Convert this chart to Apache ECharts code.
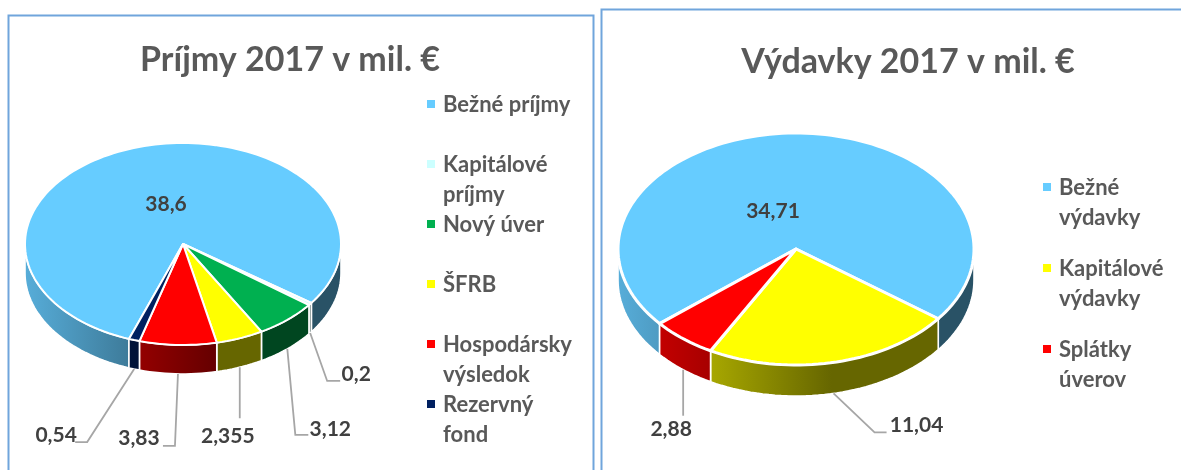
<!DOCTYPE html>
<html>
<head>
<meta charset="utf-8">
<style>
  html, body { margin: 0; padding: 0; background: #fff; }
  #chart { width: 1181px; height: 470px; }
</style>
</head>
<body>
<div id="chart"></div>
<script src="https://cdn.jsdelivr.net/npm/echarts@6/dist/echarts.min.js"></script>
<script>
// chart values
const incomeNames = ['Bežné príjmy', 'Kapitálové príjmy', 'Nový úver', 'ŠFRB', 'Hospodársky výsledok', 'Rezervný fond'];
const incomeValues = [38.6, 0.2, 3.12, 2.355, 3.83, 0.54];
const incomeLabels = ['38,6', '0,2', '3,12', '2,355', '3,83', '0,54'];
const incomeColors = ['#66CCFF', '#CCFFFF', '#00B050', '#FFFF00', '#FF0000', '#002060'];

const expenseNames = ['Bežné výdavky', 'Kapitálové výdavky', 'Splátky úverov'];
const expenseValues = [34.71, 11.04, 2.88];
const expenseLabels = ['34,71', '11,04', '2,88'];
const expenseColors = ['#66CCFF', '#FFFF00', '#FF0000'];

const incomeLegendLines = [['Bežné príjmy'], ['Kapitálové', 'príjmy'], ['Nový úver'], ['ŠFRB'], ['Hospodársky', 'výsledok'], ['Rezervný', 'fond']];
const expenseLegendLines = [['Bežné', 'výdavky'], ['Kapitálové', 'výdavky'], ['Splátky', 'úverov']];

// layout of the two pies, all in px
const incomePie = {
    cx: 183, cy: 244, rx: 158, ry: 101, depth: 29, startAngle: 110, seam: 2,
    // leader elbows and label centres, relative to the point under each slice
    leaders: [null, [[17, 48], [30, 48]], [[8, 86], [21, 86]], [[0, 51]], [[-3, 72], [-15, 72]], [[-47, 73], [-59, 73]]],
    labelAt: [[-17, -40], [46, 41], [43, 80], [-12, 69], [-39, 64], [-78, 66]],
    title: { x: 285, y: 38 },
    legend: { x: 427, y: 104, step: 60 }
};
const expensePie = {
    cx: 796, cy: 249, rx: 178, ry: 116, depth: 31, startAngle: 140, seam: 3,
    leaders: [null, [[41, 39], [53, 39]], [[0, 46]]],
    labelAt: [[-23, -38], [83, 32], [-12, 60]],
    title: { x: 903, y: 40 },
    legend: { x: 1043, y: 187, step: 81 }
};

const textFont = 'Lato';
const labelColor = '#404040';
const greyText = '#595959';
const leaderColor = '#A6A6A6';

function shade(hex, f) {
    const n = parseInt(hex.slice(1), 16);
    const c = [n >> 16, (n >> 8) & 255, n & 255].map(v => Math.round(v * f));
    return `rgb(${c[0]},${c[1]},${c[2]})`;
}

// side wall gets lighter towards the left of the pie
const sideGradient = (pie, color) => new echarts.graphic.LinearGradient(
    pie.cx - pie.rx, 0, pie.cx + pie.rx, 0,
    [{ offset: 0, color: shade(color, 0.85) }, { offset: 0.6, color: shade(color, 0.4) }, { offset: 1, color: shade(color, 0.4) }],
    true
);

const sliceRows = (values, startAngle) => {
    const total = values.reduce((a, b) => a + b, 0);
    let angle = startAngle;
    return values.map((v, i) => {
        const from = angle;
        angle += (v / total) * 360;
        return [from, angle, v, i];
    });
};

const arcPoints = (api, a0, a1, dy) => {
    const pts = [];
    const steps = Math.max(2, Math.ceil((a1 - a0) / 2));
    for (let s = 0; s <= steps; s++) {
        const a = ((a0 + ((a1 - a0) * s) / steps) * Math.PI) / 180;
        const p = api.coord([Math.cos(a), Math.sin(a)]);
        pts.push([p[0], p[1] + dy]);
    }
    return pts;
};

const makeRenderItem = (pie, colors, labels) => (params, api) => {
    const a0 = api.value(0);
    const a1 = api.value(1);
    const i = api.value(3);
    const color = colors[i];
    const style = { stroke: '#fff', lineWidth: pie.seam, lineJoin: 'round' };
    const children = [];

    // only the part of the wall facing the viewer is drawn
    [[0, 180], [360, 540]].forEach(([lo, hi]) => {
        const from = Math.max(a0, lo);
        const to = Math.min(a1, hi);
        if (from >= to) return;
        const top = arcPoints(api, from, to, 0);
        const bottom = arcPoints(api, from, to, pie.depth).reverse();
        children.push({
            type: 'polygon',
            shape: { points: top.concat(bottom) },
            style: { ...style, lineWidth: 1.6, fill: sideGradient(pie, color) }
        });
    });

    const centre = api.coord([0, 0]);
    children.push({
        type: 'polygon',
        shape: { points: [centre].concat(arcPoints(api, a0, a1, 0)) },
        style: { ...style, fill: color }
    });

    // leader from under the middle of the slice; the biggest slice is labelled inside
    const mid = (((a0 + a1) / 2) * Math.PI) / 180;
    const anchor = api.coord([Math.cos(mid), Math.sin(mid)]);
    anchor[1] += pie.depth;
    const leader = pie.leaders[i];
    const base = leader ? anchor : centre;
    if (leader) {
        children.push({
            type: 'polyline',
            z2: 5,
            shape: { points: [anchor].concat(leader.map(o => [anchor[0] + o[0], anchor[1] + o[1]])) },
            style: { stroke: leaderColor, lineWidth: 1.8, fill: null }
        });
    }
    children.push({
        type: 'text',
        z2: 6,
        x: base[0] + pie.labelAt[i][0],
        y: base[1] + pie.labelAt[i][1],
        style: { text: labels[i], fill: labelColor, font: `bold 21px ${textFont}`, align: 'center', verticalAlign: 'middle' }
    });
    return { type: 'group', children };
};

const legendGraphics = (pie, lines, colors) => {
    const out = [];
    lines.forEach((entry, i) => {
        const y = pie.legend.y + i * pie.legend.step;
        out.push({ type: 'rect', shape: { x: pie.legend.x, y: y - 4, width: 8, height: 8 }, style: { fill: colors[i] }, silent: true });
        entry.forEach((line, k) => {
            out.push({
                type: 'text', silent: true, x: pie.legend.x + 16, y: y + 1 + k * 30,
                style: { text: line, fill: greyText, font: `bold 22px ${textFont}`, align: 'left', verticalAlign: 'middle' }
            });
        });
    });
    return out;
};

const hiddenAxis = (gridIndex, extra) => ({ type: 'value', gridIndex, min: -1, max: 1, show: false, ...extra });
const pieGrid = pie => ({ left: pie.cx - pie.rx, top: pie.cy - pie.ry, width: pie.rx * 2, height: pie.ry * 2, containLabel: false });
const pieTitle = (text, pie) => ({
    text, left: pie.title.x, top: pie.title.y, textAlign: 'center',
    textStyle: { color: greyText, fontFamily: textFont, fontWeight: 'bold', fontSize: 34 }
});
const pieSeries = (name, pie, index, values, colors, labels) => ({
    type: 'custom', name, xAxisIndex: index, yAxisIndex: index, silent: true,
    encode: { x: -1, y: -1 },
    data: sliceRows(values, pie.startAngle),
    renderItem: makeRenderItem(pie, colors, labels)
});

const chart = echarts.init(document.getElementById('chart'));
chart.setOption({
    animation: false,
    backgroundColor: '#fff',
    title: [pieTitle('Príjmy 2017 v mil. €', incomePie), pieTitle('Výdavky 2017 v mil. €', expensePie)],
    grid: [pieGrid(incomePie), pieGrid(expensePie)],
    xAxis: [hiddenAxis(0), hiddenAxis(1)],
    yAxis: [hiddenAxis(0, { inverse: true }), hiddenAxis(1, { inverse: true })],
    graphic: [
        { type: 'rect', silent: true, shape: { x: 8.5, y: 15.5, width: 585, height: 470 }, style: { fill: 'none', stroke: '#70A5DC', lineWidth: 2 } },
        { type: 'rect', silent: true, shape: { x: 601.5, y: 9.5, width: 600, height: 480 }, style: { fill: 'none', stroke: '#70A5DC', lineWidth: 2 } },
        ...legendGraphics(incomePie, incomeLegendLines, incomeColors),
        ...legendGraphics(expensePie, expenseLegendLines, expenseColors)
    ],
    series: [
        pieSeries('Príjmy', incomePie, 0, incomeValues, incomeColors, incomeLabels),
        pieSeries('Výdavky', expensePie, 1, expenseValues, expenseColors, expenseLabels)
    ]
});
</script>
</body>
</html>
